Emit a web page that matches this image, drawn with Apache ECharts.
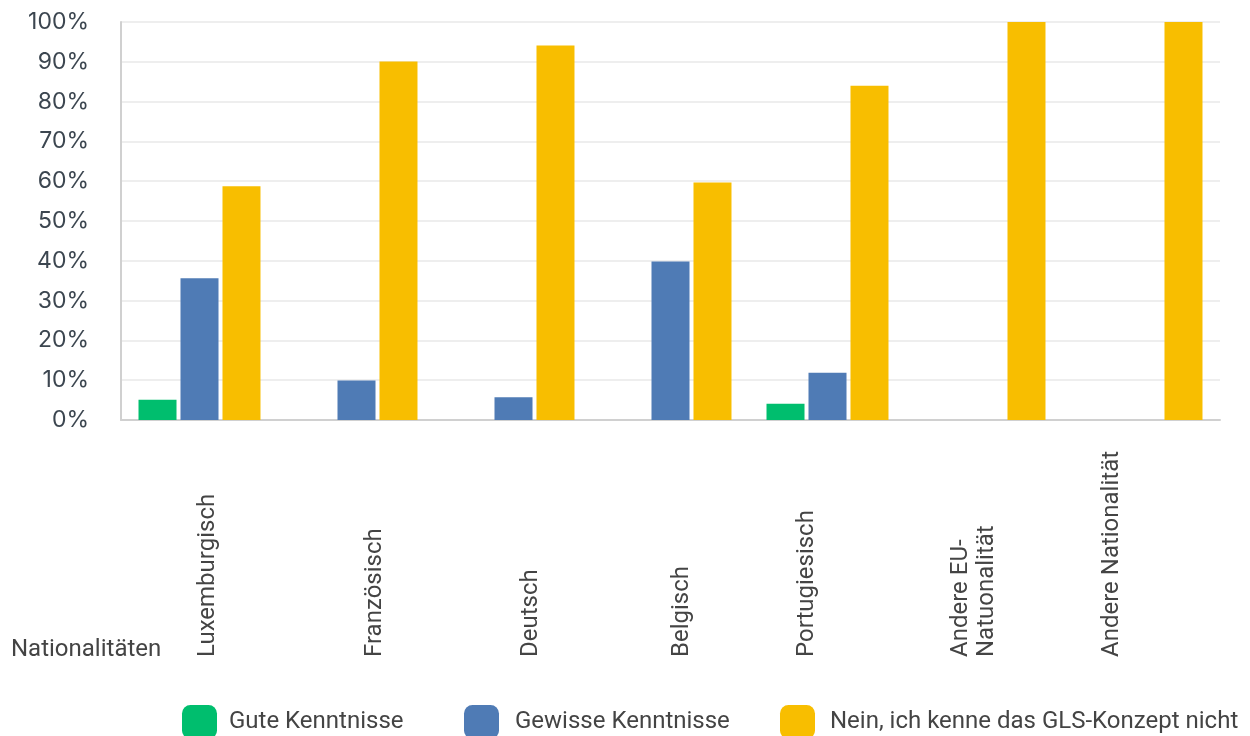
<!DOCTYPE html>
<html>
<head>
<meta charset="utf-8">
<script src="https://cdn.jsdelivr.net/npm/echarts@6/dist/echarts.min.js"></script>
<style>
  html, body { margin: 0; padding: 0; background: #ffffff; }
  #chart { width: 1250px; height: 736px; }
</style>
</head>
<body>
<div id="chart"></div>
<script>
// Nationalities on the category axis
const categories = [
  'Luxemburgisch',
  'Französisch',
  'Deutsch',
  'Belgisch',
  'Portugiesisch',
  'Andere EU-\nNatuonalität',
  'Andere Nationalität'
];

// Series names (legend)
const seriesNames = [
  'Gute Kenntnisse',
  'Gewisse Kenntnisse',
  'Nein, ich kenne das GLS-Konzept nicht'
];

// Share of respondents per nationality, in percent
const guteKenntnisse    = [5.1, 0, 0, 0, 4.1, 0, 0];
const gewisseKenntnisse = [35.6, 9.9, 5.7, 39.8, 11.9, 0, 0];
const keineKenntnis     = [58.7, 90.1, 94.1, 59.7, 84.0, 100, 100];

// Value axis tick labels
const yTickLabels = ['0%', '10%', '20%', '30%', '40%', '50%', '60%', '70%', '80%', '90%', '100%'];

// Layout: horizontal nudge (px) for each rotated category label
const labelShift = [8.5, 18.5, 17.5, 11.5, -20.5, -10.5, -29.5];
// Layout: fixed text box length of the rotated labels, so they all start on one line
const labelBox = 220;
// Layout: left edge and text indent of each legend entry
const legendLeft = [182, 464, 780];
const legendIndent = [7, 11, 10];

const colors = ['#00BE6E', '#4F7BB5', '#F8BE00'];

const chart = echarts.init(document.getElementById('chart'), null, { renderer: 'canvas' });

// One rich style per category label: a fixed-width, left-aligned box
// (text starts at the bottom), with padding moving the text sideways
const labelFont = { fontFamily: 'Roboto', fontSize: 24, lineHeight: 26, color: '#444444' };
const labelRich = {};
labelShift.forEach((s, i) => {
  labelRich['s' + i] = Object.assign({
    width: labelBox,
    align: 'left',
    padding: s >= 0 ? [2 * s, 0, 0, 0] : [0, 0, -2 * s, 0]
  }, labelFont);
});

const barCommon = {
  type: 'bar',
  barWidth: 38,
  barGap: '10.5%',
  emphasis: { disabled: true }
};

// One legend block per series
const legends = seriesNames.map((name, i) => ({
  data: [name],
  left: legendLeft[i],
  top: 705,
  padding: 0,
  itemWidth: 35,
  itemHeight: 34,
  icon: 'roundRect',
  selectedMode: false,
  textStyle: {
    fontFamily: 'Roboto',
    fontSize: 24,
    color: '#444444',
    padding: [0, 0, 0, legendIndent[i]]
  }
}));

chart.setOption({
  animation: false,
  color: colors,
  grid: {
    left: 121,
    right: 30,
    top: 22,
    bottom: 316,
    containLabel: false,
    outerBoundsMode: 'none'
  },
  legend: legends,
  graphic: [{
    type: 'text',
    left: 11,
    top: 638,
    style: {
      text: 'Nationalitäten',
      font: '24px Roboto',
      fill: '#444444'
    }
  }],
  xAxis: {
    type: 'category',
    data: categories,
    axisLine: { show: true, lineStyle: { color: '#d0d0d0', width: 2 } },
    axisTick: { show: false },
    splitLine: { show: false },
    axisLabel: Object.assign({
      interval: 0,
      rotate: 90,
      verticalAlign: 'middle',
      margin: 237 - labelBox,
      formatter: (value, index) => '{s' + index + '|' + value + '}',
      rich: labelRich
    }, labelFont)
  },
  yAxis: {
    type: 'value',
    min: 0,
    max: 100,
    interval: 10,
    axisLine: { show: true, lineStyle: { color: '#d0d0d0', width: 2 } },
    axisTick: { show: false },
    splitLine: { show: true, lineStyle: { color: '#eeeeee', width: 2 } },
    axisLabel: {
      margin: 32,
      fontFamily: 'Inter',
      fontSize: 23,
      color: '#3c4650',
      formatter: (v) => yTickLabels[Math.round(v / 10)]
    }
  },
  series: [
    Object.assign({ name: seriesNames[0], data: guteKenntnisse }, barCommon),
    Object.assign({ name: seriesNames[1], data: gewisseKenntnisse }, barCommon),
    Object.assign({ name: seriesNames[2], data: keineKenntnis }, barCommon)
  ]
});
</script>
</body>
</html>
